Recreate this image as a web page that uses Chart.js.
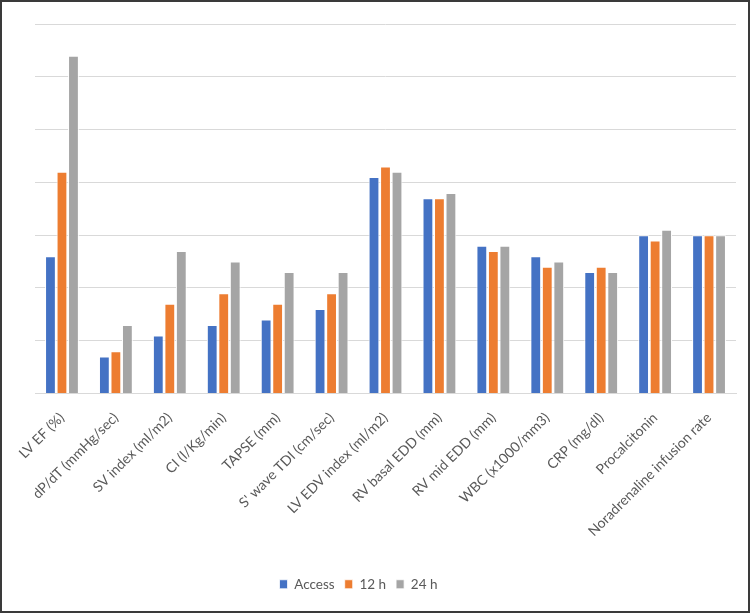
<!DOCTYPE html>
<html>
<head>
<meta charset="utf-8">
<script src="https://cdn.jsdelivr.net/npm/chart.js@4"></script>
<style>
  html, body { margin: 0; padding: 0; background: #fff; }
  #wrap { position: relative; width: 750px; height: 613px; }
  #frame { position: absolute; left: 0; top: 0; width: 750px; height: 613px;
           box-sizing: border-box; border: 2px solid #3a3a3a; pointer-events: none; }
</style>
</head>
<body>
<div id="wrap">
  <canvas id="myChart" width="750" height="613"></canvas>
  <div id="frame"></div>
</div>
<script>
"use strict";

// categories and series
const categories = ['LV EF (%)', 'dP/dT (mmHg/sec)', 'SV index (ml/m2)', 'CI (l/Kg/min)',
  'TAPSE (mm)', "S' wave TDI (cm/sec)", 'LV EDV index (ml/m2)', 'RV basal EDD (mm)',
  'RV mid EDD (mm)', 'WBC (x1000/mm3)', 'CRP (mg/dl)', 'Procalcitonin', 'Noradrenaline infusion rate']
const access = [26, 7, 11, 13, 14, 16, 41, 37, 28, 26, 23, 30, 30]
const h12 = [42, 8, 17, 19, 17, 19, 43, 37, 27, 24, 24, 29, 30]
const h24 = [64, 13, 27, 25, 23, 23, 42, 38, 28, 25, 23, 31, 30]
const yMax = 70
const yStep = 10

const mk = (label, data, color) => ({
  label: label,
  data: data,
  backgroundColor: color,
  borderColor: '#ffffff',
  borderWidth: { left: 1, right: 1, top: 1, bottom: 0 },
  borderSkipped: 'bottom',
  categoryPercentage: 0.64,
  barPercentage: 0.94
})

const my_data = {
  labels: categories,
  datasets: [
    mk('Access', access, '#4472C4'),
    mk('12 h', h12, '#ED7D31'),
    mk('24 h', h24, '#A5A5A5')
  ]
}

// Excel puts the legend a bit left of centre
const legendShift = {
  id: 'legendShift',
  afterLayout(chart) {
    chart.legend.left -= 27
    chart.legend.right -= 27
  }
}

const config = {
  type: 'bar',
  data: my_data,
  options: {
    responsive: false,
    animation: false,
    layout: { padding: { left: 35, right: 14, top: 24, bottom: 12 } },
    scales: {
      x: {
        grid: { display: false },
        border: { color: '#d9d9d9', width: 1 },
        ticks: {
          minRotation: 45, maxRotation: 45, autoSkip: false, padding: 8,
          color: '#595959', font: { family: 'Lato', size: 14 }
        },
        afterFit: s => { s.height = 174 }
      },
      y: {
        min: 0, max: yMax,
        ticks: { display: false, stepSize: yStep },
        border: { display: false },
        grid: { color: '#d9d9d9', drawTicks: false }
      }
    },
    plugins: {
      legend: {
        position: 'bottom',
        labels: {
          boxWidth: 8, boxHeight: 9, padding: 10,
          color: '#595959', font: { family: 'Lato', size: 13.5 }
        }
      },
      tooltip: { enabled: false }
    }
  },
  plugins: [legendShift]
}

const my_chart = new Chart(document.getElementById('myChart'), config)
</script>
</body>
</html>
